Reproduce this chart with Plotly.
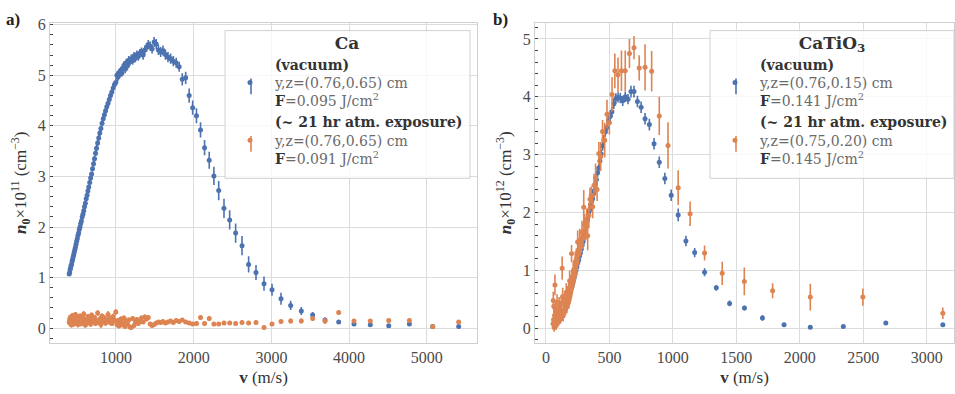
import plotly.graph_objects as go
from plotly.subplots import make_subplots

# ---------------- Panel a) Ca ----------------
ca_v = [398, 404, 410, 416, 422, 428, 435, 442, 449, 456, 463, 470, 478, 486, 494, 502, 510, 519, 528, 537,
        546, 555, 565, 575, 585, 595, 606, 617, 628, 639, 650, 662, 674, 686, 698, 711, 724, 737, 750, 764,
        778, 792, 806, 821, 836, 851, 866, 882, 898, 914, 930, 947, 964, 981, 998,
        1012, 1024, 1036, 1049, 1062, 1075, 1089, 1103, 1118, 1133, 1148, 1164, 1180, 1197, 1214, 1232, 1250,
        1269, 1288, 1308, 1328, 1349, 1371, 1393, 1416, 1440, 1465, 1491, 1518, 1546, 1575, 1605, 1636, 1669,
        1703, 1738, 1775, 1813, 1853, 1897,
        1942, 1987, 2036, 2088, 2140, 2200, 2260, 2322, 2390, 2463, 2540, 2622, 2707, 2802, 2905, 3008, 3124,
        3248, 3385, 3531, 3690, 3866, 4063, 4273, 4510, 4776, 5076, 5410]

ca_vac_n = [1.07, 1.10, 1.16, 1.19, 1.24, 1.26, 1.32, 1.36, 1.41, 1.45, 1.50, 1.55, 1.60, 1.66, 1.72, 1.77, 1.83, 1.88, 1.95, 2.00,
            2.07, 2.12, 2.20, 2.25, 2.32, 2.40, 2.47, 2.56, 2.63, 2.71, 2.79, 2.88, 2.97, 3.05, 3.15, 3.25, 3.35, 3.46, 3.56, 3.66,
            3.76, 3.86, 3.95, 4.05, 4.14, 4.22, 4.30, 4.38, 4.45, 4.52, 4.60, 4.67, 4.75, 4.82, 4.86,
            5.00, 4.96, 5.05, 5.02, 5.10, 5.04, 5.14, 5.20, 5.12, 5.25, 5.19, 5.30, 5.27, 5.33, 5.29, 5.38, 5.34,
            5.41, 5.37, 5.44, 5.47, 5.40, 5.50, 5.55, 5.61, 5.58, 5.52, 5.66, 5.62, 5.50, 5.46, 5.49, 5.41, 5.36,
            5.33, 5.28, 5.25, 5.17, 4.92, 4.95,
            4.60, 4.36, 4.20, 3.92, 3.57, 3.32, 3.01, 2.72, 2.37, 2.14, 1.88, 1.63, 1.26, 1.10, 0.88, 0.76, 0.58,
            0.45, 0.34, 0.26, 0.16, 0.12, 0.08, 0.065, 0.045, 0.08, 0.03, 0.03]

ca_vac_err = [0.04, 0.04, 0.04, 0.04, 0.04, 0.04, 0.04, 0.04, 0.04, 0.04, 0.04, 0.04, 0.04, 0.04, 0.04, 0.04, 0.04, 0.04, 0.04, 0.04,
              0.05, 0.05, 0.05, 0.05, 0.05, 0.05, 0.05, 0.05, 0.05, 0.05, 0.05, 0.05, 0.05, 0.05, 0.05, 0.06, 0.06, 0.06, 0.06, 0.06,
              0.06, 0.06, 0.06, 0.06, 0.06, 0.06, 0.06, 0.06, 0.06, 0.07, 0.07, 0.07, 0.07, 0.07, 0.07,
              0.07, 0.07, 0.07, 0.07, 0.07, 0.07, 0.07, 0.08, 0.08, 0.08, 0.08, 0.08, 0.08, 0.08, 0.08, 0.08, 0.08,
              0.08, 0.08, 0.08, 0.08, 0.09, 0.09, 0.09, 0.09, 0.09, 0.09, 0.10, 0.10, 0.10, 0.10, 0.10, 0.10, 0.10,
              0.10, 0.10, 0.10, 0.10, 0.12, 0.12,
              0.14, 0.14, 0.15, 0.15, 0.15, 0.17, 0.18, 0.19, 0.19, 0.19, 0.19, 0.19, 0.16, 0.15, 0.14, 0.12, 0.12,
              0.09, 0.08, 0.06, 0.05, 0.03, 0.03, 0.03, 0.03, 0.03, 0.03, 0.03]

ca_atm_n = [0.12, 0.18, 0.09, 0.22, 0.14, 0.06, 0.16, 0.25, 0.11, 0.08, 0.19, 0.13, 0.27, 0.10, 0.15, 0.21, 0.07, 0.12, 0.18, 0.24,
            0.09, 0.14, 0.11, 0.20, 0.28, 0.13, 0.06, 0.17, 0.10, 0.23, 0.15, 0.19, 0.08, 0.26, 0.12, 0.16, 0.21, 0.09, 0.14, 0.30,
            0.11, 0.18, 0.07, 0.24, 0.13, 0.20, 0.10, 0.16, 0.27, 0.12, 0.19, 0.09, 0.23, 0.15, 0.32,
            0.07, 0.15, 0.04, 0.12, 0.18, 0.06, 0.10, 0.20, 0.03, 0.14, 0.08, 0.16, 0.02, 0.01, 0.19, 0.05, 0.13,
            0.17, 0.09, 0.14, 0.20, 0.12, 0.22, 0.18, 0.21, 0.08, 0.05, 0.07, 0.10, 0.12, 0.11, 0.13, 0.10, 0.12,
            0.14, 0.11, 0.15, 0.13, 0.16, 0.12,
            0.10, 0.08, 0.09, 0.21, 0.09, 0.19, 0.08, 0.08, 0.10, 0.10, 0.09, 0.11, 0.10, 0.11, 0.01, 0.08, 0.13,
            0.14, 0.14, 0.19, 0.14, 0.31, 0.14, 0.14, 0.15, 0.15, 0.03, 0.12]

ca_atm_err = [0.05, 0.06, 0.05, 0.05, 0.06, 0.05, 0.06, 0.05, 0.06, 0.05, 0.05, 0.06, 0.05, 0.05, 0.06, 0.05, 0.06, 0.05, 0.05, 0.05,
              0.06, 0.05, 0.07, 0.05, 0.06, 0.05, 0.06, 0.05, 0.06, 0.05, 0.07, 0.05, 0.06, 0.05, 0.05, 0.06, 0.05, 0.05, 0.06, 0.06,
              0.05, 0.06, 0.07, 0.05, 0.05, 0.06, 0.06, 0.05, 0.07, 0.05, 0.06, 0.05, 0.06, 0.05, 0.06,
              0.05, 0.05, 0.04, 0.05, 0.05, 0.04, 0.05, 0.05, 0.04, 0.05, 0.04, 0.05, 0.04, 0.03, 0.05, 0.04, 0.05,
              0.05, 0.04, 0.05, 0.05, 0.04, 0.05, 0.05, 0.05, 0.04, 0.04, 0.04, 0.04, 0.04, 0.04, 0.04, 0.04, 0.04,
              0.04, 0.04, 0.04, 0.04, 0.04, 0.04,
              0.04, 0.04, 0.04, 0.05, 0.04, 0.05, 0.04, 0.04, 0.04, 0.04, 0.04, 0.04, 0.04, 0.04, 0.03, 0.04, 0.04,
              0.05, 0.05, 0.05, 0.06, 0.05, 0.04, 0.04, 0.04, 0.04, 0.03, 0.04]

# ---------------- Panel b) CaTiO3 ----------------
cto_vac_v = [90, 97, 104, 111, 118, 125, 132, 139, 146, 153, 160, 167, 174, 181, 188, 195, 202, 209, 216, 223,
             230, 237, 244, 251, 258, 265, 272, 279, 286, 293, 300, 307, 312, 317, 323, 328, 334, 340, 347, 353,
             360, 367, 374, 382, 390, 398, 407, 416, 425, 435, 446, 457, 468, 480, 493, 506, 520, 535, 551, 568,
             586, 605, 625, 647, 670, 694, 721, 750, 781, 815, 852, 893, 937, 987, 1042, 1103, 1172, 1250, 1342,
             1447, 1564, 1706, 1876, 2083, 2343, 2678, 3127]
cto_vac_n = [0.10, 0.12, 0.14, 0.16, 0.18, 0.21, 0.24, 0.27, 0.30, 0.33, 0.37, 0.41, 0.46, 0.52, 0.58, 0.64, 0.70, 0.76, 0.82, 0.88,
             0.94, 1.00, 1.06, 1.13, 1.18, 1.25, 1.30, 1.37, 1.44, 1.50, 1.56, 1.62, 1.70, 1.76, 1.84, 1.88, 1.95, 2.02, 2.06, 2.14,
             2.19, 2.24, 2.32, 2.38, 2.49, 2.57, 2.69, 2.77, 2.89, 3.01, 3.15, 3.26, 3.39, 3.47, 3.60, 3.66, 3.74, 3.88, 3.97, 3.99,
             3.98, 3.93, 4.00, 3.96, 4.09, 4.09, 3.92, 3.82, 3.62, 3.52, 3.19, 2.87, 2.59, 2.30, 1.96, 1.51, 1.31, 0.97, 0.70,
             0.43, 0.35, 0.18, 0.06, 0.02, 0.03, 0.09, 0.06]
cto_vac_err = [0.04, 0.04, 0.04, 0.04, 0.04, 0.04, 0.04, 0.04, 0.04, 0.04, 0.05, 0.05, 0.05, 0.05, 0.05, 0.05, 0.05, 0.05, 0.05, 0.05,
               0.05, 0.05, 0.05, 0.05, 0.05, 0.05, 0.06, 0.06, 0.06, 0.06, 0.06, 0.06, 0.06, 0.06, 0.06, 0.06, 0.06, 0.07, 0.07, 0.07,
               0.07, 0.07, 0.07, 0.07, 0.07, 0.07, 0.08, 0.08, 0.08, 0.08, 0.08, 0.08, 0.08, 0.08, 0.08, 0.08, 0.09, 0.09, 0.09, 0.09,
               0.09, 0.09, 0.09, 0.09, 0.10, 0.10, 0.10, 0.10, 0.10, 0.10, 0.10, 0.10, 0.10, 0.10, 0.11, 0.09, 0.08, 0.07, 0.05,
               0.05, 0.04, 0.05, 0.03, 0.03, 0.03, 0.03, 0.03]

cto_atm_v = [56, 58, 60, 62, 65, 68, 71, 74, 77, 80, 84, 88, 92, 96, 100, 104, 108, 112, 116, 120,
             124, 128, 132, 136, 140, 145, 150, 155, 160, 165, 170, 176, 179, 181, 184, 187, 189, 192, 195, 198,
             202, 205, 208, 212, 215, 219, 223, 227, 231, 236, 240, 245, 250, 255, 260, 266, 272, 278, 284, 291,
             298, 305, 313, 321, 329, 338, 347, 357, 368, 379, 391, 403, 417, 431, 446, 463, 481, 500, 521, 543,
             568, 595, 625, 658, 694, 735, 781, 833, 893, 962, 1042, 1136, 1250, 1389, 1563, 1786, 2083, 2497, 3127]
cto_atm_n = [0.08, 0.48, 0.15, 0.38, 0.02, 0.22, 0.75, 0.12, 0.32, 0.05, 0.20, 0.45, 0.10, 0.30, 0.15, 0.40, 0.25, 0.35, 0.18, 0.42,
             0.28, 1.04, 0.55, 0.22, 0.45, 0.30, 0.50, 0.35, 0.62, 0.40, 0.58, 0.52, 0.65, 0.48, 0.60, 0.82, 0.55, 0.70, 0.62, 0.78,
             1.29, 0.72, 0.88, 0.80, 0.98, 0.85, 1.02, 0.92, 1.15, 1.05, 1.20, 1.12, 1.49, 1.35, 1.30, 1.52, 1.42, 1.48, 1.66, 1.55,
             2.09, 1.78, 1.72, 1.85, 1.60, 1.95, 2.23, 2.30, 2.10, 2.47, 2.60, 2.40, 3.02, 2.97, 3.40, 3.25, 3.70, 3.55, 4.04, 4.45,
             4.38, 4.45, 4.45, 4.75, 4.85, 4.50, 4.51, 4.44, 3.67, 3.16, 2.43, 1.98, 1.30, 0.95, 0.81, 0.65, 0.54, 0.54, 0.26]
cto_atm_err = [0.10, 0.15, 0.10, 0.12, 0.08, 0.10, 0.18, 0.10, 0.12, 0.08, 0.10, 0.14, 0.08, 0.12, 0.10, 0.14, 0.10, 0.12, 0.10, 0.14,
               0.12, 0.20, 0.15, 0.10, 0.14, 0.12, 0.15, 0.12, 0.16, 0.14, 0.15, 0.14, 0.16, 0.14, 0.15, 0.18, 0.14, 0.16, 0.15, 0.16,
               0.15, 0.15, 0.16, 0.15, 0.16, 0.15, 0.16, 0.15, 0.18, 0.16, 0.18, 0.16, 0.20, 0.18, 0.16, 0.20, 0.18, 0.18, 0.20, 0.18,
               0.30, 0.20, 0.20, 0.22, 0.25, 0.22, 0.20, 0.15, 0.20, 0.20, 0.25, 0.20, 0.20, 0.25, 0.20, 0.30, 0.25, 0.20, 0.30, 0.30,
               0.30, 0.35, 0.35, 0.25, 0.20, 0.22, 0.40, 0.35, 0.33, 0.40, 0.30, 0.21, 0.13, 0.20, 0.24, 0.13, 0.23, 0.15, 0.10]

# tick labels
ca_xticks = [1000, 2000, 3000, 4000, 5000]
ca_yticks = [0, 1, 2, 3, 4, 5, 6]
cto_xticks = [0, 500, 1000, 1500, 2000, 2500, 3000]
cto_yticks = [0, 1, 2, 3, 4, 5]

BLUE = "#4C72B0"
ORANGE = "#DD8452"
FONT = "Liberation Serif, DejaVu Serif, serif"
LFONT = "DejaVu Serif, serif"
GRAY = "#6a6a6a"
W, H = 955, 394

ca_names = [
    "<b>(vacuum)</b><br><span style='color:%s'>y,z=(0.76,0.65) cm</span><br><b>F</b><span style='color:%s'>=0.095 J/cm<sup>2</sup></span>" % (GRAY, GRAY),
    "<b>(~ 21 hr atm. exposure)</b><br><span style='color:%s'>y,z=(0.76,0.65) cm</span><br><b>F</b><span style='color:%s'>=0.091 J/cm<sup>2</sup></span>" % (GRAY, GRAY),
]
cto_names = [
    "<b>(vacuum)</b><br><span style='color:%s'>y,z=(0.76,0.15) cm</span><br><b>F</b><span style='color:%s'>=0.141 J/cm<sup>2</sup></span>" % (GRAY, GRAY),
    "<b>(~ 21 hr atm. exposure)</b><br><span style='color:%s'>y,z=(0.75,0.20) cm</span><br><b>F</b><span style='color:%s'>=0.145 J/cm<sup>2</sup></span>" % (GRAY, GRAY),
]

fig = make_subplots(rows=1, cols=2)


def add(v, n, err, color, name, col, legend):
    fig.add_trace(go.Scatter(
        x=v, y=n, mode="markers", name=name, legend=legend,
        marker=dict(color=color, size=5, line=dict(width=0)),
        error_y=dict(type="data", array=err, color=color, thickness=1.6, width=0),
    ), row=1, col=col)


add(ca_v, ca_vac_n, ca_vac_err, BLUE, ca_names[0], 1, "legend")
add(ca_v, ca_atm_n, ca_atm_err, ORANGE, ca_names[1], 1, "legend")
add(cto_vac_v, cto_vac_n, cto_vac_err, BLUE, cto_names[0], 2, "legend2")
add(cto_atm_v, cto_atm_n, cto_atm_err, ORANGE, cto_names[1], 2, "legend2")

axis_common = dict(
    showgrid=True, gridcolor="#dcdcdc", gridwidth=1.2,
    showline=True, linecolor="#cfcfcf", linewidth=1.2, mirror=True,
    zeroline=False, ticks="",
    tickfont=dict(family=FONT, size=16, color="#4a4a4a"),
)
ytitle_ca = "<b><i>n</i><sub>0</sub></b>×10<sup>11</sup> (cm<sup>−3</sup>)"
ytitle_cto = "<b><i>n</i><sub>0</sub></b>×10<sup>12</sup> (cm<sup>−3</sup>)"
xtitle = "<b>v</b> (m/s)"
TFONT = dict(family=FONT, size=17, color="#333333")

fig.update_xaxes(**axis_common)
fig.update_yaxes(**axis_common)
fig.update_yaxes(minor=dict(ticks="inside", ticklen=3, tickcolor="#444444", tickwidth=1, dtick=0.2, showgrid=False))

legend_common = dict(
    xanchor="left", yanchor="top",
    bgcolor="rgba(0,0,0,0)", borderwidth=0,
    font=dict(family=LFONT, size=14, color="#333333"),
    tracegroupgap=2, itemwidth=40,
)


def px(x):
    return x / W


def py(y):
    return 1 - y / H


shapes = []
# legend frames (semi-transparent white boxes)
for x0, x1 in [(225, 470), (710, 954)]:
    shapes.append(dict(type="rect", xref="paper", yref="paper", x0=px(x0), x1=px(x1), y0=py(175), y1=py(25),
                       fillcolor="rgba(255,255,255,0.8)", line=dict(color="#d0d0d0", width=1), layer="above"))
# error-bar glyphs behind the legend markers
for xc in [251, 736]:
    for yc, col in [(81.5, BLUE), (140, ORANGE)]:
        shapes.append(dict(type="line", xref="paper", yref="paper", x0=px(xc), x1=px(xc), y0=py(yc + 8), y1=py(yc - 8),
                           line=dict(color=col, width=1.6), layer="above"))

fig.update_layout(
    xaxis=dict(domain=[50/955, 477/955], range=[151, 5646], tickvals=ca_xticks,
               title=dict(text=xtitle, font=TFONT, standoff=6)),
    yaxis=dict(domain=[52/394, 377/394], range=[-0.29, 6.04], tickvals=ca_yticks,
               title=dict(text=ytitle_ca, font=TFONT, standoff=6)),
    xaxis2=dict(domain=[535/955, 954/955], range=[-86, 3215], tickvals=cto_xticks,
                title=dict(text=xtitle, font=TFONT, standoff=6)),
    yaxis2=dict(domain=[52/394, 377/394], range=[-0.25, 5.28], tickvals=cto_yticks,
                title=dict(text=ytitle_cto, font=TFONT, standoff=6)),
    width=W, height=H,
    margin=dict(l=0, r=0, t=0, b=0),
    paper_bgcolor="white", plot_bgcolor="white",
    font=dict(family=FONT, color="#333333"),
    shapes=shapes,
    legend=dict(x=225/955, y=1 - 21/394,
                title=dict(text="<b>Ca</b>", side="top center", font=dict(family=LFONT, size=17, color="#333333")),
                **legend_common),
    legend2=dict(x=710/955, y=1 - 21/394,
                 title=dict(text="<b>CaTiO<sub>3</sub></b>", side="top center", font=dict(family=LFONT, size=17, color="#333333")),
                 **legend_common),
    annotations=[
        dict(text="<b>a)</b>", x=4/955, y=1 - 2/394, xref="paper", yref="paper", xanchor="left", yanchor="top",
             showarrow=False, font=dict(family=FONT, size=17, color="#222222")),
        dict(text="<b>b)</b>", x=491/955, y=1 - 2/394, xref="paper", yref="paper", xanchor="left", yanchor="top",
             showarrow=False, font=dict(family=FONT, size=17, color="#222222")),
    ],
)

fig.write_html("out.html")
